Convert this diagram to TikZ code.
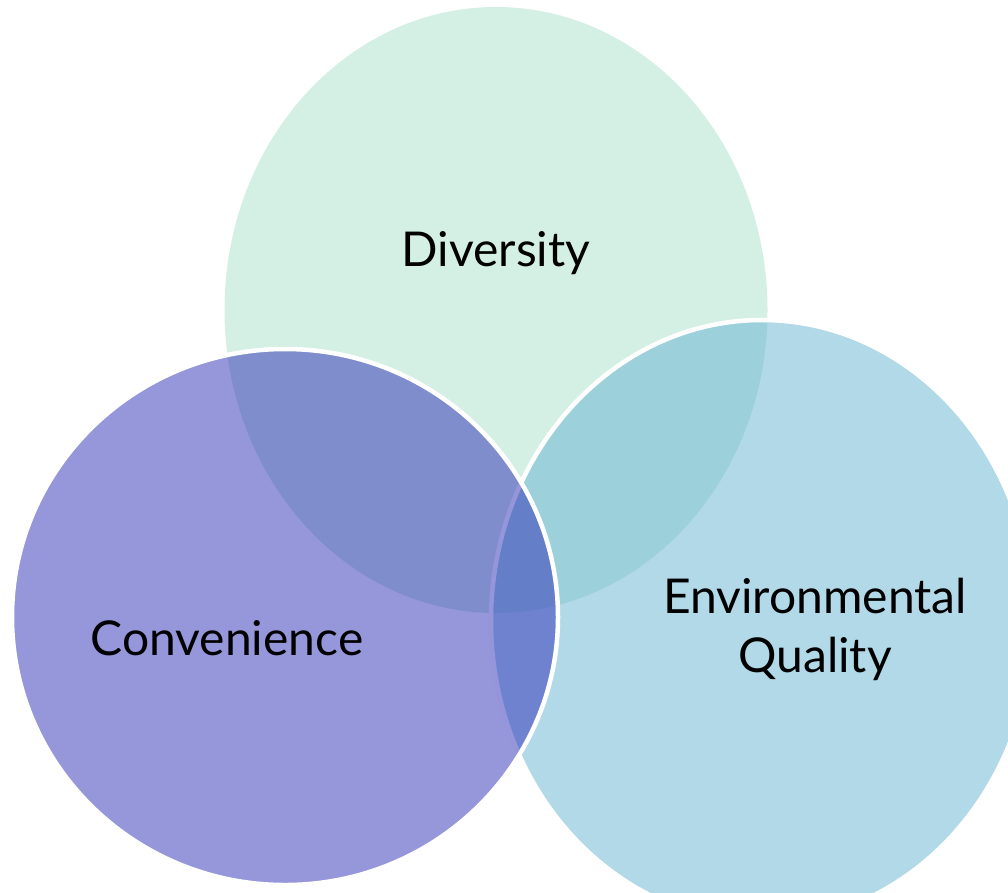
\documentclass[tikz,border=0pt]{standalone}
\usepackage{fontspec}
\setmainfont{Lato}
\definecolor{mint}{RGB}{212,239,228}
\definecolor{bluec}{RGB}{101,179,209}
\definecolor{purp}{RGB}{45,45,183}
\tikzset{
  venn/.style={draw=white, line width=4.5pt, fill opacity=0.5, draw opacity=1},
  lbl/.style={anchor=base, font=\fontsize{48}{58}\selectfont, inner sep=0pt, text=black}
}
\begin{document}
\begin{tikzpicture}[x=1pt,y=-1pt]
\useasboundingbox (0,0) rectangle (1008,892);
\clip (0,0) rectangle (1008,892);
\fill[mint] (496,310) ellipse [x radius=271.5pt, y radius=303pt];
\path[venn, fill=bluec] (762,621) ellipse [x radius=271pt, y radius=301pt];
\path[venn, fill=purp] (285,617) ellipse [x radius=273pt, y radius=268pt];
\node[lbl] (div) at (496,266) {Diversity};
\node[lbl] (conv) at (227,655) {Convenience};
\node[lbl] (env1) at (815,613) {Environmental};
\node[lbl] (env2) at (815,672) {Quality};
\end{tikzpicture}
\end{document}
